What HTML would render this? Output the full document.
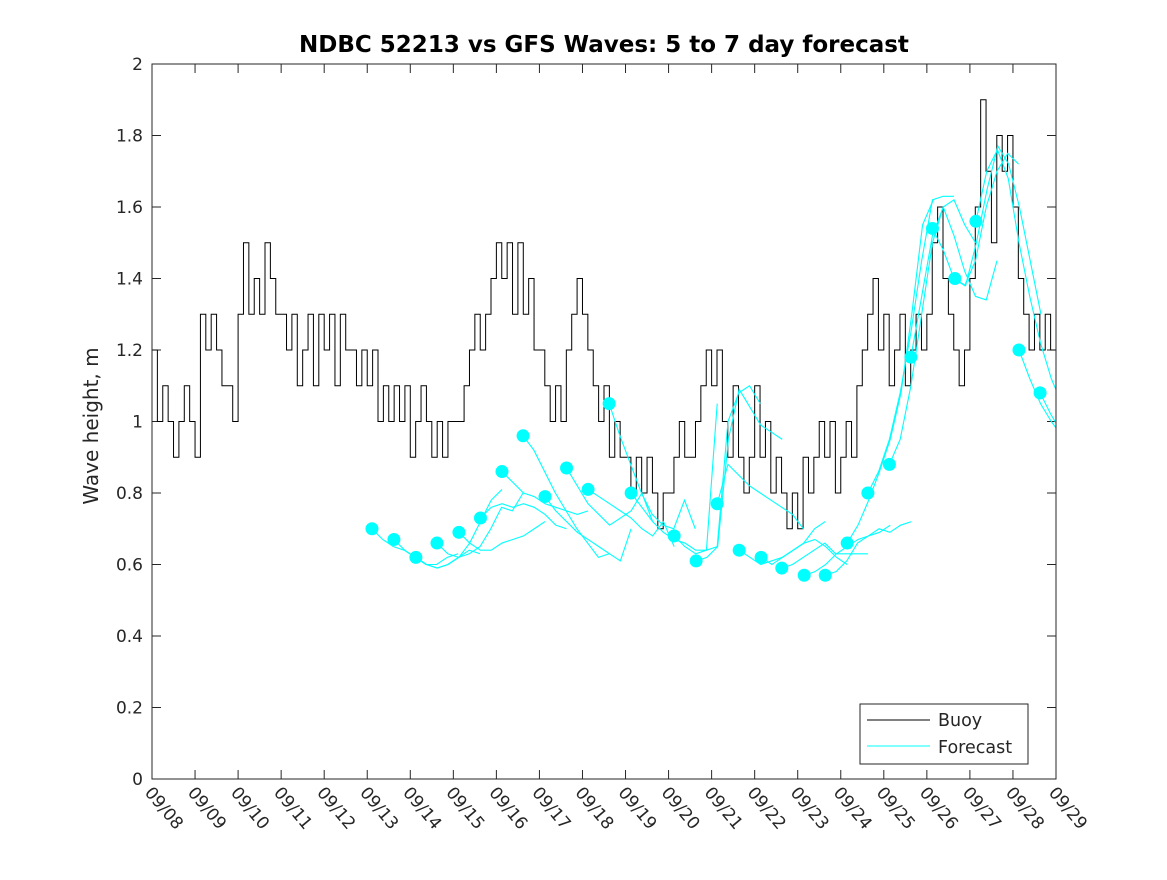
<!DOCTYPE html>
<html><head><meta charset="utf-8"><style>
body{margin:0;background:#fff;}
svg text{font-family:"DejaVu Sans","Liberation Sans",sans-serif;fill:#262626;}
</style></head><body>
<svg id="chart" width="1167" height="875" xmlns="http://www.w3.org/2000/svg">
<rect width="1167" height="875" fill="#fff"/>
<text x="604" y="52" text-anchor="middle" font-size="23" font-weight="bold" style="fill:#000">NDBC 52213 vs GFS Waves: 5 to 7 day forecast</text>
<text transform="translate(98,426) rotate(-90)" text-anchor="middle" font-size="20">Wave height, m</text>
<g id="axes"></g>
<g id="plot"></g>
<rect x="152" y="64" width="904" height="715" fill="none" stroke="#262626" stroke-width="1"/>
<g>
<rect x="860" y="704" width="168" height="60" fill="#fff" stroke="#262626"/>
<line x1="867" y1="720" x2="930" y2="720" stroke="#000"/>
<text x="938" y="726" font-size="17.5">Buoy</text>
<line x1="867" y1="746" x2="930" y2="746" stroke="#00ffff"/>
<text x="938" y="753" font-size="17.5">Forecast</text>
</g>
</svg>
<script>
const xTickLabels=["09/08","09/09","09/10","09/11","09/12","09/13","09/14","09/15","09/16","09/17","09/18","09/19","09/20","09/21","09/22","09/23","09/24","09/25","09/26","09/27","09/28","09/29"];
const yTicks=[0,0.2,0.4,0.6,0.8,1,1.2,1.4,1.6,1.8,2];
const buoyStep=0.125;
const buoy=[
1.2,1.0,1.1,1.0,0.9,1.0,1.1,1.0,
0.9,1.3,1.2,1.3,1.2,1.1,1.1,1.0,
1.3,1.5,1.3,1.4,1.3,1.5,1.4,1.3,
1.3,1.2,1.3,1.1,1.2,1.3,1.1,1.3,
1.2,1.3,1.1,1.3,1.2,1.2,1.1,1.2,
1.1,1.2,1.0,1.1,1.0,1.1,1.0,1.1,
0.9,1.0,1.1,1.0,0.9,1.0,0.9,1.0,
1.0,1.0,1.1,1.2,1.3,1.2,1.3,1.4,
1.5,1.4,1.5,1.3,1.5,1.3,1.4,1.2,
1.2,1.1,1.0,1.1,1.0,1.2,1.3,1.4,
1.3,1.2,1.1,1.0,1.1,0.9,1.0,0.9,
0.9,0.8,0.9,0.8,0.9,0.8,0.7,0.8,
0.8,0.9,1.0,0.9,0.9,1.0,1.1,1.2,
1.1,1.2,1.0,0.9,1.1,0.9,0.8,0.9,
1.1,0.9,1.0,0.8,0.9,0.8,0.7,0.8,
0.7,0.9,0.8,0.9,1.0,0.9,1.0,0.8,
0.9,1.0,0.9,1.1,1.2,1.3,1.4,1.2,
1.3,1.1,1.2,1.3,1.1,1.2,1.3,1.2,
1.3,1.5,1.6,1.4,1.3,1.2,1.1,1.2,
1.4,1.6,1.9,1.7,1.5,1.8,1.7,1.8,
1.6,1.4,1.3,1.2,1.3,1.2,1.3,1.2];
const fcStep=0.25;
const fcStarts=[5.11,5.62,6.13,6.62,7.13,7.63,8.13,8.62,9.13,9.63,10.13,10.62,11.13,12.13,12.64,13.13,13.64,14.15,14.63,15.15,15.64,16.15,16.63,17.13,17.63,18.13,18.65,19.14,20.14,20.63];
const fcValues=[
[.70,.67,.65,.64,.62,.60,.60,.62,.63],
[.67,.64,.62,.60,.59,.60,.62,.64,.63],
[.62,.60,.59,.60,.62,.66,.72,.78,.81],
[.66,.63,.62,.63,.65,.70,.76,.75,.80],
[.69,.66,.64,.64,.66,.67,.68,.70,.72],
[.73,.76,.77,.76,.77,.76,.74,.71,.70],
[.86,.83,.80,.79,.77,.76,.75,.74,.75],
[.96,.92,.86,.80,.75,.70,.66,.62,.63],
[.79,.75,.72,.69,.67,.65,.63,.61,.70],
[.87,.82,.77,.74,.71,.73,.75,.80,.72],
[.81,.79,.77,.75,.73,.70,.68,.72,.65],
[1.05,.96,.88,.80,.74,.71,.70,.78,.70],
[.80,.76,.72,.69,.67,.66,.64,.64,1.05],
[.68,.65,.63,.64,.65,1.0,1.08,1.10,1.05],
[.61,.62,.65,.95,1.09,1.04,.99,.97,.95],
[.77,.88,.85,.82,.80,.78,.76,.74,.70],
[.64,.62,.60,.61,.62,.64,.66,.70,.72],
[.62,.60,.62,.64,.66,.67,.65,.62,.60],
[.59,.60,.62,.64,.66,.63,.63,.63,.63],
[.57,.58,.60,.63,.65,.67,.68,.69,.71],
[.57,.58,.61,.66,.68,.70,.69,.71,.72],
[.66,.71,.78,.86,.95,1.08,1.30,1.55,1.62],
[.80,.86,.95,1.08,1.25,1.45,1.62,1.63,1.63],
[.88,.95,1.10,1.30,1.50,1.60,1.62,1.55,1.50],
[1.18,1.35,1.52,1.60,1.52,1.42,1.35,1.34,1.45],
[1.54,1.48,1.40,1.38,1.45,1.60,1.70,1.75,1.72],
[1.40,1.38,1.50,1.65,1.77,1.72,1.60,1.45,1.30],
[1.56,1.70,1.76,1.68,1.50,1.35,1.22,1.12,1.05],
[1.20,1.12,1.05,1.00,.96],
[1.08,1.02,.97]];

const X0=152,X1=1056,Y0=779,Y1=64,NDAYS=21;
const xs=d=>X0+(X1-X0)*d/NDAYS;
const ys=v=>Y0-(Y0-Y1)*v/2;
const NS="http://www.w3.org/2000/svg";
const axes=document.getElementById('axes'),plot=document.getElementById('plot');
function mk(tag,attrs,parent){const e=document.createElementNS(NS,tag);for(const k in attrs)e.setAttribute(k,attrs[k]);parent.appendChild(e);return e;}

yTicks.forEach(v=>{
  const y=ys(v);
  const t1=mk('line',{x1:X0,y1:y,x2:X0+9,y2:y,stroke:'#262626'},axes);
  
  
  const t2=mk('line',{x1:X1,y1:y,x2:X1-9,y2:y,stroke:'#262626'},axes);
  
  
  const tx=mk('text',{x:X0-9,y:y+6,'text-anchor':'end','font-size':'17'},axes);
  
  
  tx.textContent=String(v);
});
xTickLabels.forEach((lab,i)=>{
  const x=xs(i);
  const t1=mk('line',{x1:x,y1:Y0,x2:x,y2:Y0-9,stroke:'#262626'},axes);
  
  
  const t2=mk('line',{x1:x,y1:Y1,x2:x,y2:Y1+9,stroke:'#262626'},axes);
  
  
  const tx=mk('text',{transform:`translate(${x-8},${Y0+14}) rotate(50)`,'font-size':'17'},axes);
  
  
  tx.textContent=lab;
});

const clip=mk('clipPath',{id:'pc'},plot);
mk('rect',{x:X0,y:Y1,width:X1-X0,height:Y0-Y1},clip);
const g=mk('g',{'clip-path':'url(#pc)'},plot);

let d='';
buoy.forEach((v,i)=>{const x=xs(i*buoyStep),y=ys(v);
  if(i===0)d+=`M${x},${y}`;else d+=`H${x}V${y}`;});
d+=`H${xs(NDAYS)}`;
const bl=mk('path',{d:d,fill:'none',stroke:'#000','stroke-width':'1'},g);



fcStarts.forEach((s,k)=>{
  const vals=fcValues[k];
  const pts=vals.map((v,j)=>`${xs(s+j*fcStep)},${ys(v)}`).join(' ');
  const pl=mk('polyline',{points:pts,fill:'none',stroke:'#00ffff','stroke-width':'1.1'},g);
  
  
});
fcStarts.forEach((s,k)=>{
  const c=mk('circle',{cx:xs(s),cy:ys(fcValues[k][0]),r:6.5,fill:'#00ffff'},g);
  
  
});
</script>
</body></html>
